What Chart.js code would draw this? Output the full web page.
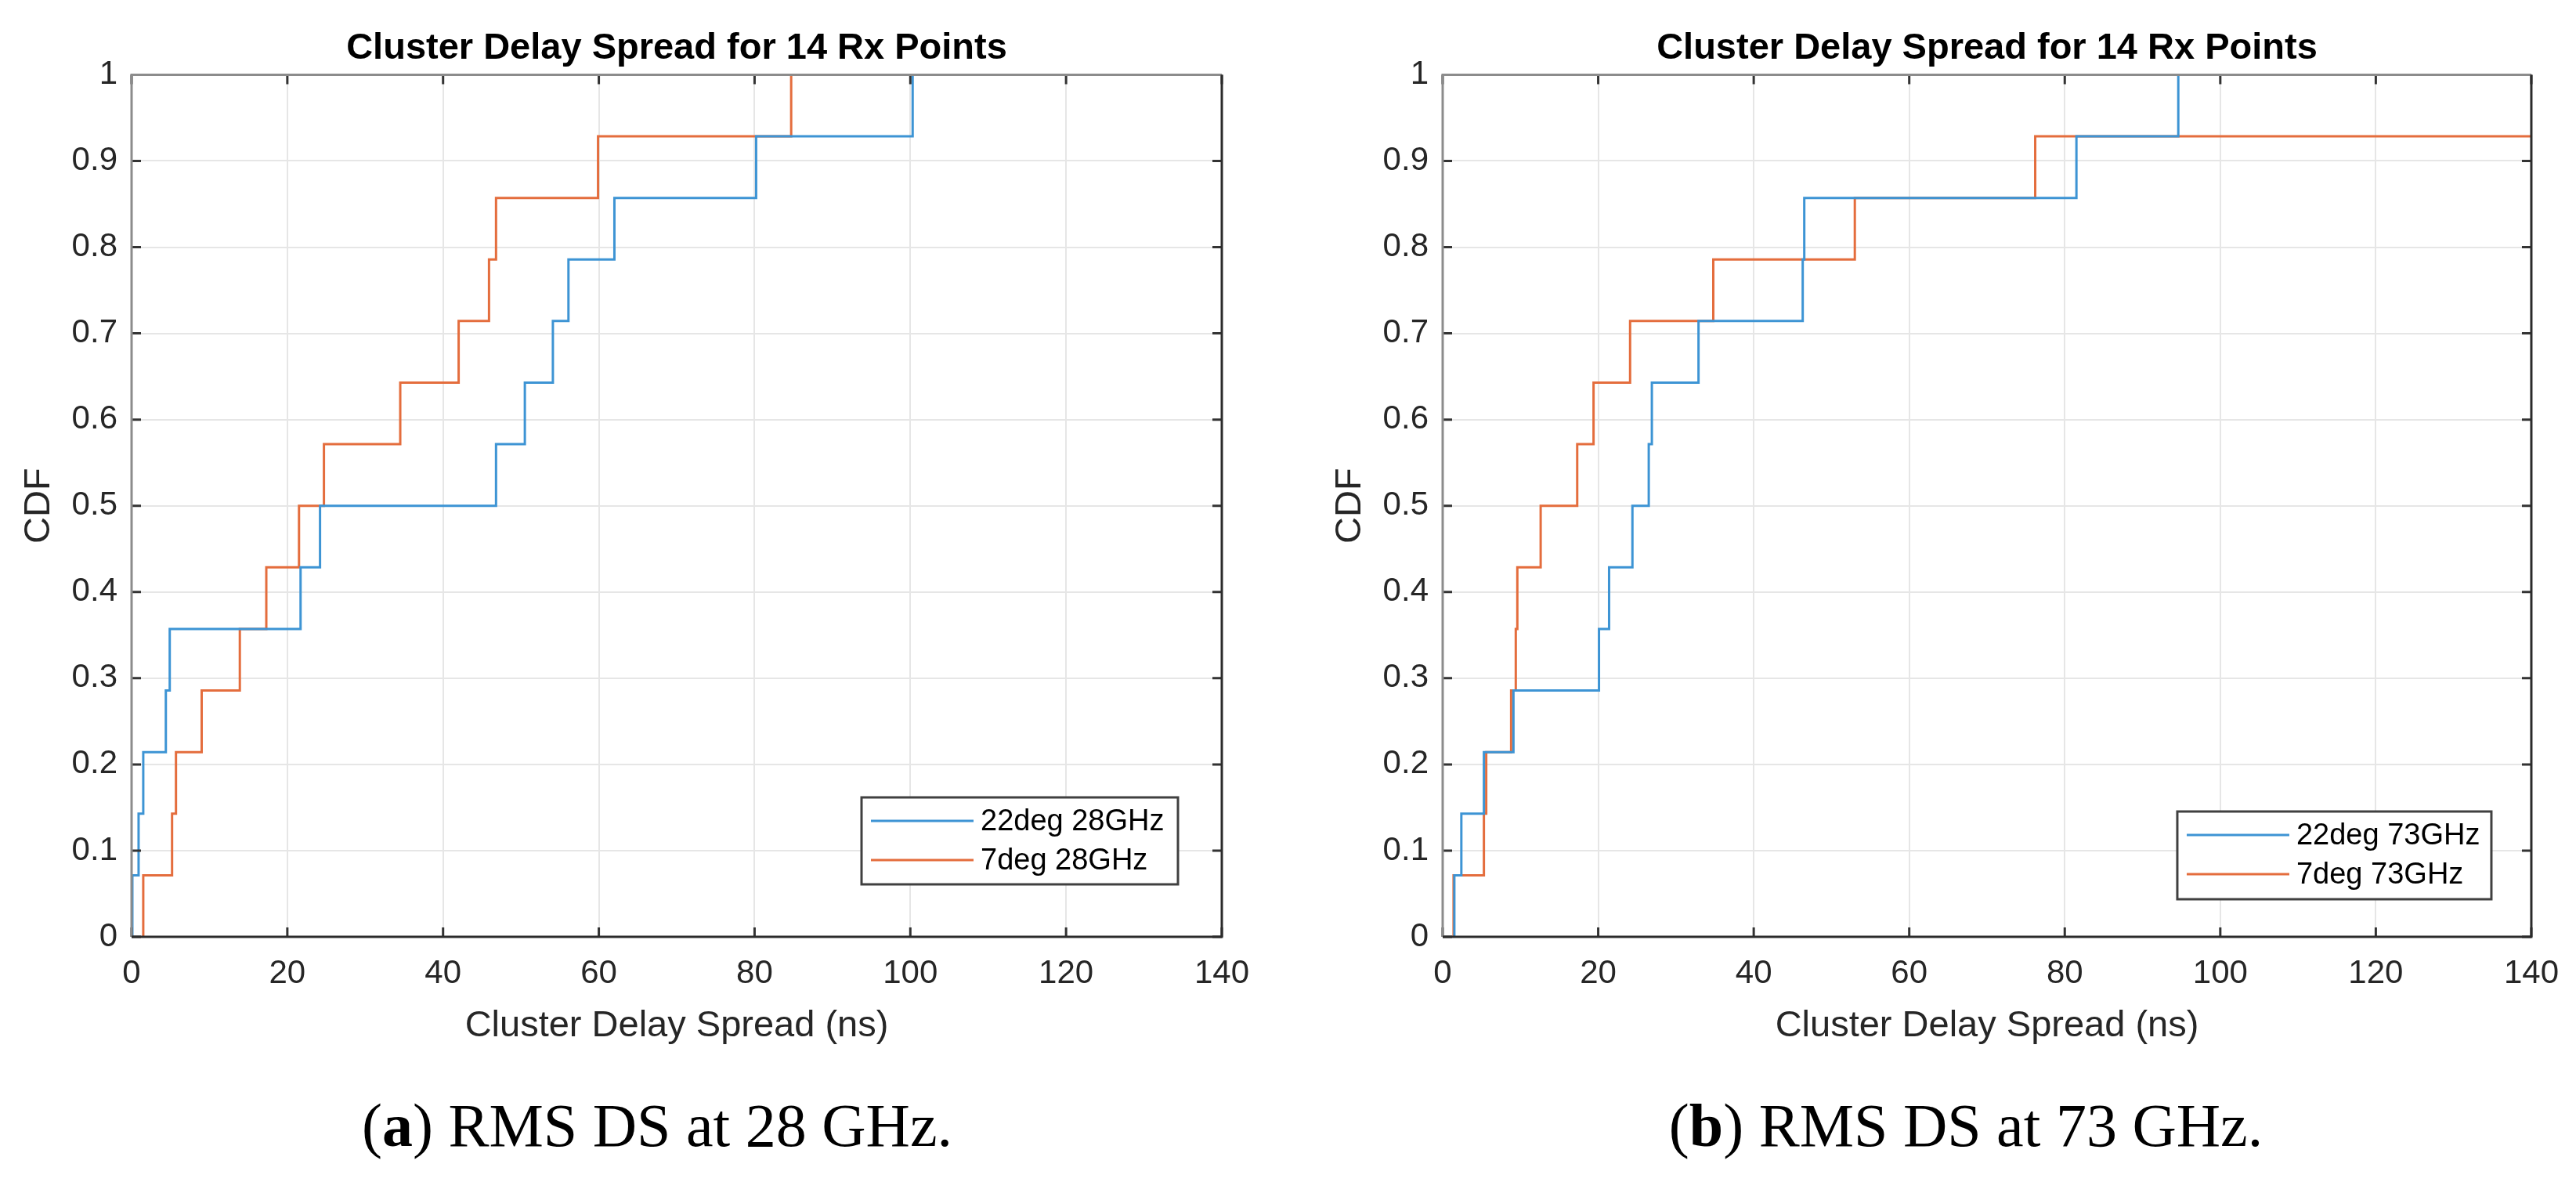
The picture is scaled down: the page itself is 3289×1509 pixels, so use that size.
<!DOCTYPE html>
<html lang="en">
  <head>
    <meta charset="utf-8" />
    <title>Cluster Delay Spread CDF</title>
    <script src="https://cdn.jsdelivr.net/npm/chart.js"></script>
    <style>
      html, body {
        margin: 0;
        padding: 0;
        background: #fff;
      }
      body {
        width: 3289px;
        height: 1509px;
        position: relative;
        overflow: hidden;
      }
      canvas {
        position: absolute;
        top: 0;
      }
      .caption {
        position: absolute;
        top: 1398px;
        width: 1200px;
        text-align: center;
        font-family: "Liberation Serif", serif;
        font-size: 78px;
        line-height: 78px;
        color: #000;
      }
    </style>
  </head>
  <body>
    <canvas id="chart-28" width="1645" height="1360" style="left: 0px"></canvas>
    <canvas id="chart-73" width="1644" height="1360" style="left: 1645px"></canvas>
    <div class="caption" style="left: 239px">(<b>a</b>) RMS DS at 28 GHz.</div>
    <div class="caption" style="left: 1910px">(<b>b</b>) RMS DS at 73 GHz.</div>

    <script>
      // delay spread samples (ns), 14 Rx points each
      const delay22deg28 = [0.1, 0.9, 1.5, 4.4, 4.9, 21.7, 24.2, 46.8, 50.5, 54.1, 56.1, 62.0, 80.2, 100.3];
      const delay7deg28 = [1.5, 5.2, 5.7, 9.0, 13.9, 17.3, 21.5, 24.7, 34.5, 42.0, 45.9, 46.8, 59.9, 84.7];
      const delay22deg73 = [1.5, 2.4, 5.3, 9.1, 20.1, 21.4, 24.4, 26.5, 26.9, 32.9, 46.3, 46.5, 81.5, 94.6];
      const delay7deg73 = [1.4, 5.3, 5.6, 8.8, 9.4, 9.6, 12.6, 17.3, 19.4, 24.1, 34.8, 53.0, 76.2, 150];

      const xTicks = [0, 20, 40, 60, 80, 100, 120, 140];
      const yTicks = [0, 0.1, 0.2, 0.3, 0.4, 0.5, 0.6, 0.7, 0.8, 0.9, 1];
      const yTickLabels = ["0", "0.1", "0.2", "0.3", "0.4", "0.5", "0.6", "0.7", "0.8", "0.9", "1"];

      const titleText = "Cluster Delay Spread for 14 Rx Points";
      const xLabel = "Cluster Delay Spread (ns)";
      const yLabel = "CDF";

      const BLUE = "#3d94d4";
      const ORANGE = "#e46d3d";
      const FONT = "'Liberation Sans', Arial, sans-serif";

      // empirical cdf: step up by 1/n at each sorted sample
      function cdfPoints(samples) {
        const pts = [{ x: samples[0], y: 0 }];
        samples.forEach((v, i) => pts.push({ x: v, y: (i + 1) / samples.length }));
        pts.push({ x: 200, y: 1 });
        return pts;
      }

      // matlab style box, inward ticks and legend
      const axesBox = {
        id: "axesBox",
        afterDatasetsDraw(chart) {
          const { ctx, chartArea: a, scales } = chart;
          ctx.save();
          ctx.lineWidth = 3;
          ctx.strokeStyle = "#333";
          scales.x.ticks.forEach((t, i) => {
            const px = scales.x.getPixelForTick(i);
            ctx.beginPath();
            ctx.moveTo(px, a.bottom);
            ctx.lineTo(px, a.bottom - 12);
            ctx.moveTo(px, a.top);
            ctx.lineTo(px, a.top + 12);
            ctx.stroke();
          });
          scales.y.ticks.forEach((t, i) => {
            const py = scales.y.getPixelForTick(i);
            ctx.beginPath();
            ctx.moveTo(a.left, py);
            ctx.lineTo(a.left + 12, py);
            ctx.moveTo(a.right, py);
            ctx.lineTo(a.right - 12, py);
            ctx.stroke();
          });
          ctx.strokeStyle = "#8c8c8c";
          ctx.beginPath();
          ctx.moveTo(a.left, a.bottom);
          ctx.lineTo(a.left, a.top);
          ctx.lineTo(a.right, a.top);
          ctx.stroke();
          ctx.strokeStyle = "#2b2b2b";
          ctx.beginPath();
          ctx.moveTo(a.left, a.bottom);
          ctx.lineTo(a.right, a.bottom);
          ctx.lineTo(a.right, a.top);
          ctx.stroke();
          ctx.restore();
        },
        afterDraw(chart, args, opts) {
          const { ctx, chartArea: a } = chart;
          const w = opts.width, h = opts.height;
          const left = a.right - opts.right - w;
          const top = a.bottom - opts.bottom - h;
          ctx.save();
          ctx.fillStyle = "#fff";
          ctx.fillRect(left, top, w, h);
          ctx.lineWidth = 3;
          ctx.strokeStyle = "#404040";
          ctx.strokeRect(left, top, w, h);
          ctx.font = "38px " + FONT;
          ctx.textBaseline = "middle";
          chart.data.datasets.forEach((ds, i) => {
            const y = top + 30 + i * 50;
            ctx.strokeStyle = ds.borderColor;
            ctx.lineWidth = 3;
            ctx.beginPath();
            ctx.moveTo(left + 12, y);
            ctx.lineTo(left + 143, y);
            ctx.stroke();
            ctx.fillStyle = "#000";
            ctx.fillText(ds.label, left + 152, y + 2);
          });
          ctx.restore();
        },
      };

      function makeChart(id, series, yAxisWidth, padRight, yTitlePad, legendPos) {
        return new Chart(document.getElementById(id), {
          type: "line",
          data: {
            datasets: series.map((s) => ({
              label: s.label,
              data: cdfPoints(s.values),
              borderColor: s.color,
              borderWidth: 3,
              stepped: true,
              pointRadius: 0,
              fill: false,
            })),
          },
          options: {
            responsive: false,
            animation: false,
            devicePixelRatio: 1,
            layout: { padding: { left: 0, right: padRight, top: 0, bottom: 0 } },
            plugins: {
              legend: { display: false },
              tooltip: { enabled: false },
              title: {
                display: true,
                text: titleText,
                fullSize: false,
                color: "#000",
                font: { family: FONT, size: 47, weight: "bold" },
                padding: { top: 34, bottom: 5 },
              },
              axesBox: legendPos,
            },
            scales: {
              x: {
                type: "linear",
                min: 0,
                max: 140,
                afterBuildTicks: (s) => {
                  s.ticks = xTicks.map((v) => ({ value: v }));
                },
                afterFit: (s) => {
                  s.height = 164;
                },
                grid: { color: "#e6e6e6", lineWidth: 2, drawTicks: false },
                border: { display: false },
                ticks: {
                  color: "#262626",
                  padding: 22,
                  maxRotation: 0,
                  font: { family: FONT, size: 42 },
                },
                title: {
                  display: true,
                  text: xLabel,
                  color: "#262626",
                  font: { family: FONT, size: 47 },
                  padding: { top: 0, bottom: 22 },
                },
              },
              y: {
                type: "linear",
                min: 0,
                max: 1,
                afterBuildTicks: (s) => {
                  s.ticks = yTicks.map((v) => ({ value: v }));
                },
                afterFit: (s) => {
                  s.width = yAxisWidth;
                },
                grid: { color: "#e6e6e6", lineWidth: 2, drawTicks: false },
                border: { display: false },
                ticks: {
                  color: "#262626",
                  padding: 18,
                  font: { family: FONT, size: 42 },
                  callback: (v, i) => yTickLabels[i],
                },
                title: {
                  display: true,
                  text: yLabel,
                  color: "#262626",
                  font: { family: FONT, size: 47 },
                  padding: { top: yTitlePad, bottom: 0 },
                },
              },
            },
          },
          plugins: [axesBox],
        });
      }

      makeChart(
        "chart-28",
        [
          { label: "22deg 28GHz", values: delay22deg28, color: BLUE },
          { label: "7deg 28GHz", values: delay7deg28, color: ORANGE },
        ],
        168, 85, 22,
        { width: 404, height: 111, right: 56, bottom: 67 }
      );

      makeChart(
        "chart-73",
        [
          { label: "22deg 73GHz", values: delay22deg73, color: BLUE },
          { label: "7deg 73GHz", values: delay7deg73, color: ORANGE },
        ],
        197, 54, 51,
        { width: 401, height: 112, right: 51, bottom: 48 }
      );
    </script>
  </body>
</html>
